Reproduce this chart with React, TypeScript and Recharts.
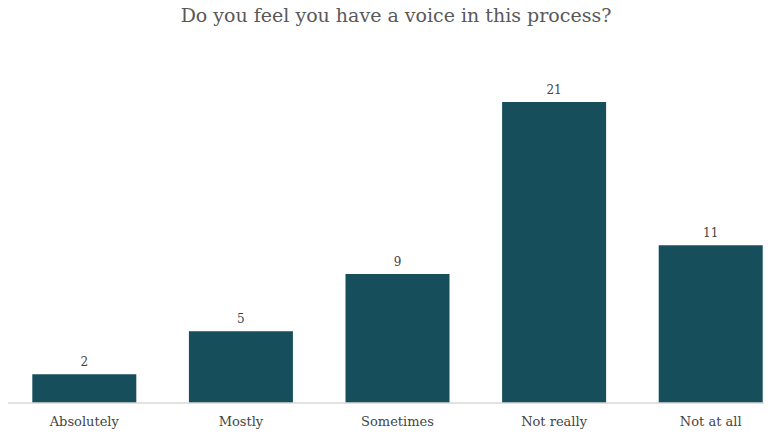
import React from "react";
import { BarChart, Bar, XAxis, YAxis, LabelList } from "recharts";

const categories = ["Absolutely", "Mostly", "Sometimes", "Not really", "Not at all"];
const counts = [2, 5, 9, 21, 11];
const title = "Do you feel you have a voice in this process?";

const data = categories.map((name, i) => ({ name, value: counts[i] }));

const FONT = "'DejaVu Serif', serif";

export default function App() {
  return (
    <div style={{ position: "relative", marginLeft: -8, marginTop: -8, width: 770, height: 435, background: "#fff" }}>
      <div
        style={{
          position: "absolute",
          top: 4,
          left: 0,
          width: 792,
          textAlign: "center",
          fontFamily: FONT,
          fontSize: 19,
          color: "#595959",
        }}
      >
        {title}
      </div>
      <BarChart
        width={770}
        height={435}
        data={data}
        margin={{ top: 102, right: -19, bottom: 2, left: 6 }}
        barCategoryGap="16.8%"
      >
        <XAxis
          dataKey="name"
          height={30}
          tickLine={false}
          tickMargin={8}
          axisLine={{ stroke: "#d9d9d9", strokeWidth: 1.5 }}
          tick={{ fill: "#444", fontSize: 13, fontFamily: FONT }}
          interval={0}
        />
        <YAxis hide domain={[0, 21]} />
        <Bar dataKey="value" fill="#164e5c" isAnimationActive={false}>
          <LabelList dataKey="value" position="top" offset={8} fill="#444" fontSize={12} fontFamily={FONT} />
        </Bar>
      </BarChart>
    </div>
  );
}
